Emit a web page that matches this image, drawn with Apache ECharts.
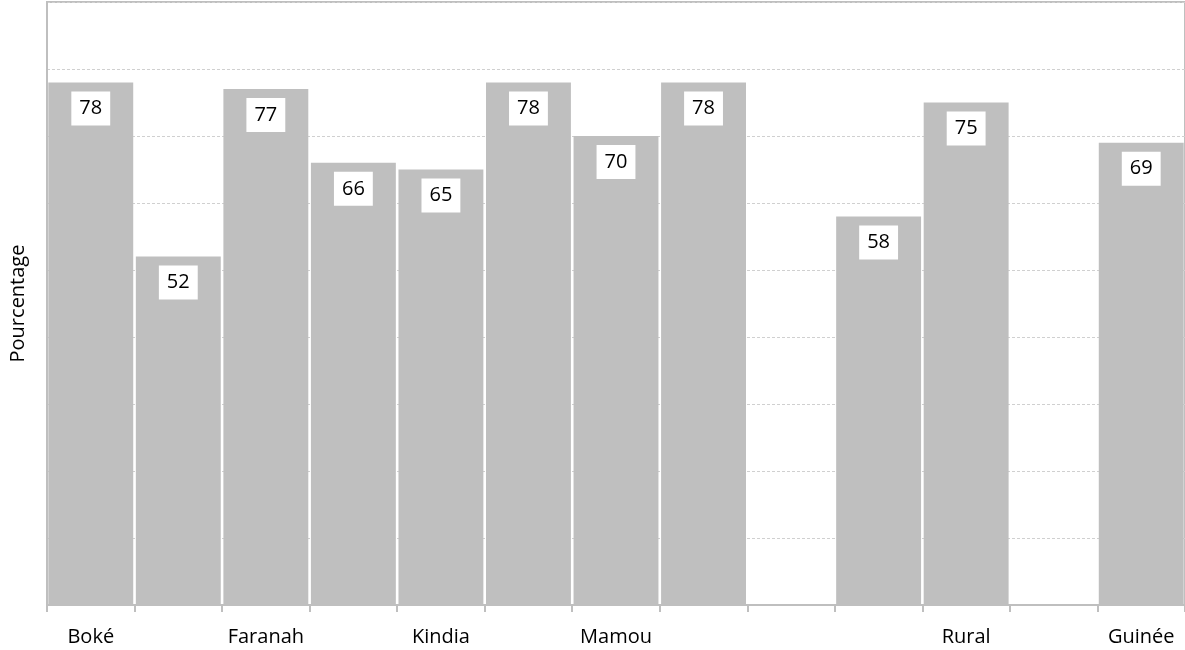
<!DOCTYPE html>
<html>
<head>
<meta charset="utf-8">
<script src="https://cdn.jsdelivr.net/npm/echarts@6/dist/echarts.min.js"></script>
<style>html,body{margin:0;padding:0;background:#fff}#c{width:1185px;height:650px}</style>
</head>
<body>
<div id="c"></div>
<script>
const categories = ["Boké", "Conakry", "Faranah", "Kankan", "Kindia", "Labé", "Mamou", "N'Zérékoré", "", "Urbain", "Rural", "", "Guinée"];
const values = [78, 52, 77, 66, 65, 78, 70, 78, null, 58, 75, null, 69];
const yAxisTitle = "Pourcentage";
const yMin = 0, yMax = 90, yStep = 10;

const chart = echarts.init(document.getElementById('c'), null, {renderer: 'canvas'});
const font = '"Open Sans", sans-serif';
chart.setOption({
  animation: false,
  backgroundColor: '#fff',
  grid: {left: 44, right: 0, top: 2, bottom: 45, show: true, borderColor: '#bfbfbf', borderWidth: 2, backgroundColor: 'transparent'},
  xAxis: {
    type: 'category',
    data: categories,
    axisLine: {lineStyle: {color: '#bfbfbf', width: 2}},
    axisTick: {show: true, interval: 0, length: 7, lineStyle: {color: '#bfbfbf', width: 2}},
    axisLabel: {interval: 1, color: '#000', fontFamily: font, fontSize: 20, margin: 22}
  },
  yAxis: {
    type: 'value',
    min: yMin, max: yMax, interval: yStep,
    name: yAxisTitle,
    nameLocation: 'middle',
    nameGap: 19,
    nameTextStyle: {color: '#000', fontFamily: font, fontSize: 20},
    axisLine: {show: true, lineStyle: {color: '#bfbfbf', width: 2}},
    axisTick: {show: false},
    axisLabel: {show: false},
    splitLine: {lineStyle: {color: '#d0d0d0', type: [3, 2], width: 1}}
  },
  series: [{
    type: 'bar',
    data: values,
    barCategoryGap: '3%',
    itemStyle: {color: '#bfbfbf'},
    label: {
      show: true,
      position: 'insideTop',
      distance: 9,
      color: '#000',
      fontFamily: font,
      fontSize: 20,
      lineHeight: 22,
      backgroundColor: '#fff',
      padding: [6, 8, 6, 8]
    }
  }]
});
</script>
</body>
</html>
